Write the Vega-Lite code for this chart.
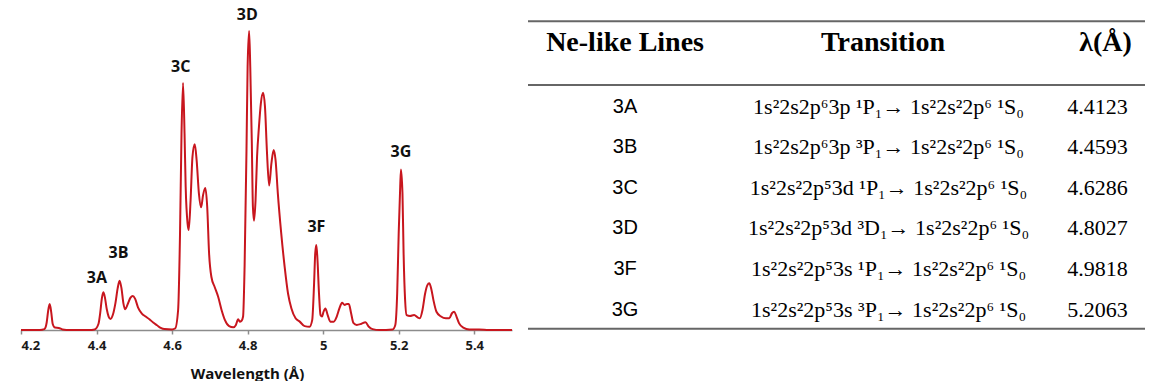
{
  "$schema": "https://vega.github.io/schema/vega-lite/v6.json",
  "background": "white",
  "padding": {"left": 17, "top": 1, "right": 0, "bottom": 0},
  "config": {"view": {"stroke": null}},
  "spacing": 11,
  "datasets": {
    "spectrum": [
      {"wavelength": 4.2, "intensity": 0}, {"wavelength": 4.25, "intensity": 0},
      {"wavelength": 4.262, "intensity": 0.003}, {"wavelength": 4.268, "intensity": 0.025},
      {"wavelength": 4.272, "intensity": 0.065}, {"wavelength": 4.276, "intensity": 0.087},
      {"wavelength": 4.28, "intensity": 0.06}, {"wavelength": 4.284, "intensity": 0.02},
      {"wavelength": 4.29, "intensity": 0.008}, {"wavelength": 4.3, "intensity": 0.007},
      {"wavelength": 4.31, "intensity": 0.002}, {"wavelength": 4.33, "intensity": 0},
      {"wavelength": 4.38, "intensity": 0}, {"wavelength": 4.395, "intensity": 0.002},
      {"wavelength": 4.405, "intensity": 0.02}, {"wavelength": 4.41, "intensity": 0.06},
      {"wavelength": 4.414, "intensity": 0.105}, {"wavelength": 4.418, "intensity": 0.126},
      {"wavelength": 4.422, "intensity": 0.11}, {"wavelength": 4.427, "intensity": 0.07},
      {"wavelength": 4.432, "intensity": 0.045}, {"wavelength": 4.437, "intensity": 0.037},
      {"wavelength": 4.443, "intensity": 0.05}, {"wavelength": 4.45, "intensity": 0.09},
      {"wavelength": 4.456, "intensity": 0.14}, {"wavelength": 4.461, "intensity": 0.165},
      {"wavelength": 4.466, "intensity": 0.14}, {"wavelength": 4.471, "intensity": 0.09},
      {"wavelength": 4.476, "intensity": 0.069}, {"wavelength": 4.482, "intensity": 0.085},
      {"wavelength": 4.49, "intensity": 0.108}, {"wavelength": 4.496, "intensity": 0.114},
      {"wavelength": 4.502, "intensity": 0.105}, {"wavelength": 4.51, "intensity": 0.075},
      {"wavelength": 4.52, "intensity": 0.055}, {"wavelength": 4.53, "intensity": 0.045},
      {"wavelength": 4.54, "intensity": 0.036}, {"wavelength": 4.55, "intensity": 0.025},
      {"wavelength": 4.56, "intensity": 0.016}, {"wavelength": 4.57, "intensity": 0.007},
      {"wavelength": 4.58, "intensity": 0.003}, {"wavelength": 4.6, "intensity": 0.002},
      {"wavelength": 4.608, "intensity": 0.005}, {"wavelength": 4.616, "intensity": 0.067},
      {"wavelength": 4.621, "intensity": 0.32}, {"wavelength": 4.625, "intensity": 0.657},
      {"wavelength": 4.629, "intensity": 0.826}, {"wavelength": 4.633, "intensity": 0.657},
      {"wavelength": 4.636, "intensity": 0.479}, {"wavelength": 4.641, "intensity": 0.356},
      {"wavelength": 4.644, "intensity": 0.334}, {"wavelength": 4.649, "intensity": 0.434},
      {"wavelength": 4.654, "intensity": 0.579}, {"wavelength": 4.66, "intensity": 0.621},
      {"wavelength": 4.665, "intensity": 0.568}, {"wavelength": 4.671, "intensity": 0.457},
      {"wavelength": 4.677, "intensity": 0.41}, {"wavelength": 4.682, "intensity": 0.451},
      {"wavelength": 4.688, "intensity": 0.475}, {"wavelength": 4.693, "intensity": 0.412},
      {"wavelength": 4.698, "intensity": 0.256}, {"wavelength": 4.704, "intensity": 0.178},
      {"wavelength": 4.713, "intensity": 0.143}, {"wavelength": 4.722, "intensity": 0.111},
      {"wavelength": 4.731, "intensity": 0.067}, {"wavelength": 4.74, "intensity": 0.033},
      {"wavelength": 4.751, "intensity": 0.013}, {"wavelength": 4.762, "intensity": 0.009},
      {"wavelength": 4.769, "intensity": 0.017}, {"wavelength": 4.775, "intensity": 0.036},
      {"wavelength": 4.779, "intensity": 0.028}, {"wavelength": 4.784, "intensity": 0.031},
      {"wavelength": 4.788, "intensity": 0.045}, {"wavelength": 4.792, "intensity": 0.212},
      {"wavelength": 4.797, "intensity": 0.6}, {"wavelength": 4.8, "intensity": 0.88},
      {"wavelength": 4.804, "intensity": 1.0}, {"wavelength": 4.807, "intensity": 0.88},
      {"wavelength": 4.811, "intensity": 0.635}, {"wavelength": 4.814, "intensity": 0.412},
      {"wavelength": 4.817, "intensity": 0.365}, {"wavelength": 4.821, "intensity": 0.434},
      {"wavelength": 4.825, "intensity": 0.579}, {"wavelength": 4.83, "intensity": 0.679},
      {"wavelength": 4.835, "intensity": 0.757}, {"wavelength": 4.841, "intensity": 0.793},
      {"wavelength": 4.846, "intensity": 0.746}, {"wavelength": 4.851, "intensity": 0.601},
      {"wavelength": 4.857, "intensity": 0.483}, {"wavelength": 4.863, "intensity": 0.557},
      {"wavelength": 4.869, "intensity": 0.602}, {"wavelength": 4.874, "intensity": 0.568},
      {"wavelength": 4.88, "intensity": 0.457}, {"wavelength": 4.889, "intensity": 0.323},
      {"wavelength": 4.898, "intensity": 0.212}, {"wavelength": 4.907, "intensity": 0.122},
      {"wavelength": 4.916, "intensity": 0.072}, {"wavelength": 4.927, "intensity": 0.039},
      {"wavelength": 4.938, "intensity": 0.028}, {"wavelength": 4.951, "intensity": 0.013},
      {"wavelength": 4.964, "intensity": 0.011}, {"wavelength": 4.971, "intensity": 0.033},
      {"wavelength": 4.976, "intensity": 0.156}, {"wavelength": 4.979, "intensity": 0.256},
      {"wavelength": 4.982, "intensity": 0.284}, {"wavelength": 4.985, "intensity": 0.234},
      {"wavelength": 4.989, "intensity": 0.122}, {"wavelength": 4.993, "intensity": 0.05},
      {"wavelength": 4.997, "intensity": 0.045}, {"wavelength": 5.001, "intensity": 0.061},
      {"wavelength": 5.006, "intensity": 0.072}, {"wavelength": 5.012, "intensity": 0.05},
      {"wavelength": 5.019, "intensity": 0.028}, {"wavelength": 5.028, "intensity": 0.028},
      {"wavelength": 5.036, "intensity": 0.045}, {"wavelength": 5.043, "intensity": 0.072},
      {"wavelength": 5.05, "intensity": 0.091}, {"wavelength": 5.057, "intensity": 0.084},
      {"wavelength": 5.063, "intensity": 0.087}, {"wavelength": 5.068, "intensity": 0.087},
      {"wavelength": 5.074, "intensity": 0.056}, {"wavelength": 5.08, "intensity": 0.024},
      {"wavelength": 5.089, "intensity": 0.017}, {"wavelength": 5.1, "intensity": 0.02},
      {"wavelength": 5.112, "intensity": 0.026}, {"wavelength": 5.121, "intensity": 0.011},
      {"wavelength": 5.131, "intensity": 0.003}, {"wavelength": 5.149, "intensity": 0},
      {"wavelength": 5.184, "intensity": 0.002}, {"wavelength": 5.191, "intensity": 0.017},
      {"wavelength": 5.196, "intensity": 0.122}, {"wavelength": 5.2, "intensity": 0.323},
      {"wavelength": 5.204, "intensity": 0.479}, {"wavelength": 5.206, "intensity": 0.537},
      {"wavelength": 5.21, "intensity": 0.457}, {"wavelength": 5.213, "intensity": 0.256},
      {"wavelength": 5.217, "intensity": 0.1}, {"wavelength": 5.221, "intensity": 0.05},
      {"wavelength": 5.23, "intensity": 0.047}, {"wavelength": 5.241, "intensity": 0.05},
      {"wavelength": 5.25, "intensity": 0.042}, {"wavelength": 5.256, "intensity": 0.039},
      {"wavelength": 5.263, "intensity": 0.067}, {"wavelength": 5.27, "intensity": 0.122},
      {"wavelength": 5.276, "intensity": 0.15}, {"wavelength": 5.281, "intensity": 0.156},
      {"wavelength": 5.286, "intensity": 0.139}, {"wavelength": 5.292, "intensity": 0.1},
      {"wavelength": 5.3, "intensity": 0.061}, {"wavelength": 5.312, "intensity": 0.045},
      {"wavelength": 5.325, "intensity": 0.039}, {"wavelength": 5.334, "intensity": 0.039},
      {"wavelength": 5.341, "intensity": 0.056}, {"wavelength": 5.347, "intensity": 0.061},
      {"wavelength": 5.353, "intensity": 0.045}, {"wavelength": 5.36, "intensity": 0.022},
      {"wavelength": 5.371, "intensity": 0.008}, {"wavelength": 5.387, "intensity": 0.002},
      {"wavelength": 5.413, "intensity": 0.002}, {"wavelength": 5.439, "intensity": 0},
      {"wavelength": 5.5, "intensity": 0}
    ],
    "peaks": [
      {"line": "3A", "wavelength": 4.401, "intensity": 0.173},
      {"line": "3B", "wavelength": 4.458, "intensity": 0.259},
      {"line": "3C", "wavelength": 4.623, "intensity": 0.88},
      {"line": "3D", "wavelength": 4.799, "intensity": 1.052},
      {"line": "3F", "wavelength": 4.982, "intensity": 0.345},
      {"line": "3G", "wavelength": 5.206, "intensity": 0.594}
    ],
    "lines": [
      {"row": 1, "line": "3A", "transition": "1s²2s2p⁶3p ¹P₁→ 1s²2s²2p⁶ ¹S₀", "lambda": 4.4123},
      {"row": 2, "line": "3B", "transition": "1s²2s2p⁶3p ³P₁→ 1s²2s²2p⁶ ¹S₀", "lambda": 4.4593},
      {"row": 3, "line": "3C", "transition": "1s²2s²2p⁵3d ¹P₁→ 1s²2s²2p⁶ ¹S₀", "lambda": 4.6286},
      {"row": 4, "line": "3D", "transition": "1s²2s²2p⁵3d ³D₁→ 1s²2s²2p⁶ ¹S₀", "lambda": 4.8027},
      {"row": 5, "line": "3F", "transition": "1s²2s²2p⁵3s ¹P₁→ 1s²2s²2p⁶ ¹S₀", "lambda": 4.9818},
      {"row": 6, "line": "3G", "transition": "1s²2s²2p⁵3s ³P₁→ 1s²2s²2p⁶ ¹S₀", "lambda": 5.2063}
    ]
  },
  "hconcat": [
    {
      "width": 491,
      "height": 329,
      "layer": [
        {
          "data": {"name": "spectrum"},
          "mark": {"type": "line", "interpolate": "monotone", "color": "#C8161E", "strokeWidth": 2},
          "encoding": {
            "x": {
              "field": "wavelength", "type": "quantitative",
              "scale": {"domain": [4.2, 5.5], "nice": false, "zero": false},
              "axis": {
                "values": [4.2, 4.4, 4.6, 4.8, 5, 5.2, 5.4], "format": "~g", "grid": false,
                "domainColor": "#8c8c8c", "domainWidth": 1.5,
                "tickColor": "#8c8c8c", "tickWidth": 1.5, "tickSize": 4,
                "labelFont": "Open Sans", "labelFontWeight": "bold", "labelFontSize": 13,
                "labelColor": "#1a1a1a", "labelPadding": 5,
                "title": "Wavelength (Å)", "titleFont": "Open Sans", "titleFontWeight": "bold",
                "titleFontSize": 15, "titleColor": "#111111",
                "titleX": 226, "titleY": 43, "titleBaseline": "middle", "titleAlign": "center"
              }
            },
            "y": {
              "field": "intensity", "type": "quantitative",
              "scale": {"domain": [0, 1.1], "nice": false}, "axis": null
            }
          }
        },
        {
          "data": {"name": "peaks"},
          "mark": {"type": "text", "font": "Open Sans", "fontWeight": "bold", "fontSize": 16, "color": "#111111", "baseline": "middle"},
          "encoding": {
            "x": {"field": "wavelength", "type": "quantitative"},
            "y": {"field": "intensity", "type": "quantitative"},
            "text": {"field": "line"}
          }
        }
      ]
    },
    {
      "width": 617,
      "height": 329,
      "layer": [
        {
          "data": {"values": [{}]},
          "mark": {"type": "rule", "color": "#666666", "strokeWidth": 2},
          "encoding": {"y": {"datum": -1.1, "type": "quantitative", "scale": {"domain": [-1.6, 6.5], "reverse": true, "nice": false, "zero": false}, "axis": null}}
        },
        {
          "data": {"values": [{}]},
          "mark": {"type": "rule", "color": "#666666", "strokeWidth": 2},
          "encoding": {"y": {"datum": 0.47, "type": "quantitative"}}
        },
        {
          "data": {"values": [{}]},
          "mark": {"type": "rule", "color": "#666666", "strokeWidth": 2},
          "encoding": {"y": {"datum": 6.47, "type": "quantitative"}}
        },
        {
          "data": {"values": [{"head": "Ne-like Lines"}, {"head": "Transition"}, {"head": "λ(Å)"}]},
          "layer": [
            {
              "transform": [{"filter": "datum.head === 'Ne-like Lines'"}],
              "mark": {"type": "text", "font": "Liberation Serif", "fontWeight": "bold", "fontSize": 28, "color": "#000000", "baseline": "middle"},
              "encoding": {
                "x": {"datum": "Ne-like Lines", "type": "nominal", "bandPosition": 0.472, "scale": {"type": "band", "domain": ["Ne-like Lines", "Transition", "λ(Å)"], "paddingInner": 0, "paddingOuter": 0}, "axis": null},
                "y": {"datum": -0.56, "type": "quantitative"},
                "text": {"field": "head"}
              }
            },
            {
              "transform": [{"filter": "datum.head === 'Transition'"}],
              "mark": {"type": "text", "font": "Liberation Serif", "fontWeight": "bold", "fontSize": 28, "color": "#000000", "baseline": "middle"},
              "encoding": {
                "x": {"datum": "Transition", "type": "nominal", "bandPosition": 0.726},
                "y": {"datum": -0.56, "type": "quantitative"},
                "text": {"field": "head"}
              }
            },
            {
              "transform": [{"filter": "datum.head === 'λ(Å)'"}],
              "mark": {"type": "text", "font": "Liberation Serif", "fontWeight": "bold", "fontSize": 28, "color": "#000000", "baseline": "middle"},
              "encoding": {
                "x": {"datum": "λ(Å)", "type": "nominal", "bandPosition": 0.808},
                "y": {"datum": -0.56, "type": "quantitative"},
                "text": {"field": "head"}
              }
            }
          ]
        },
        {
          "data": {"name": "lines"},
          "mark": {"type": "text", "font": "Liberation Sans", "fontSize": 20, "color": "#000000", "baseline": "middle"},
          "encoding": {
            "x": {"datum": "Ne-like Lines", "type": "nominal", "bandPosition": 0.472},
            "y": {"field": "row", "type": "quantitative"},
            "text": {"field": "line"}
          }
        },
        {
          "data": {"name": "lines"},
          "mark": {"type": "text", "font": "Liberation Serif", "fontSize": 22, "color": "#000000", "baseline": "middle"},
          "encoding": {
            "x": {"datum": "Transition", "type": "nominal", "bandPosition": 0.753},
            "y": {"field": "row", "type": "quantitative"},
            "text": {"field": "transition"}
          }
        },
        {
          "data": {"name": "lines"},
          "mark": {"type": "text", "font": "Liberation Serif", "fontSize": 22, "color": "#000000", "baseline": "middle"},
          "encoding": {
            "x": {"datum": "λ(Å)", "type": "nominal", "bandPosition": 0.769},
            "y": {"field": "row", "type": "quantitative"},
            "text": {"field": "lambda", "format": ".4f"}
          }
        }
      ]
    }
  ]
}
